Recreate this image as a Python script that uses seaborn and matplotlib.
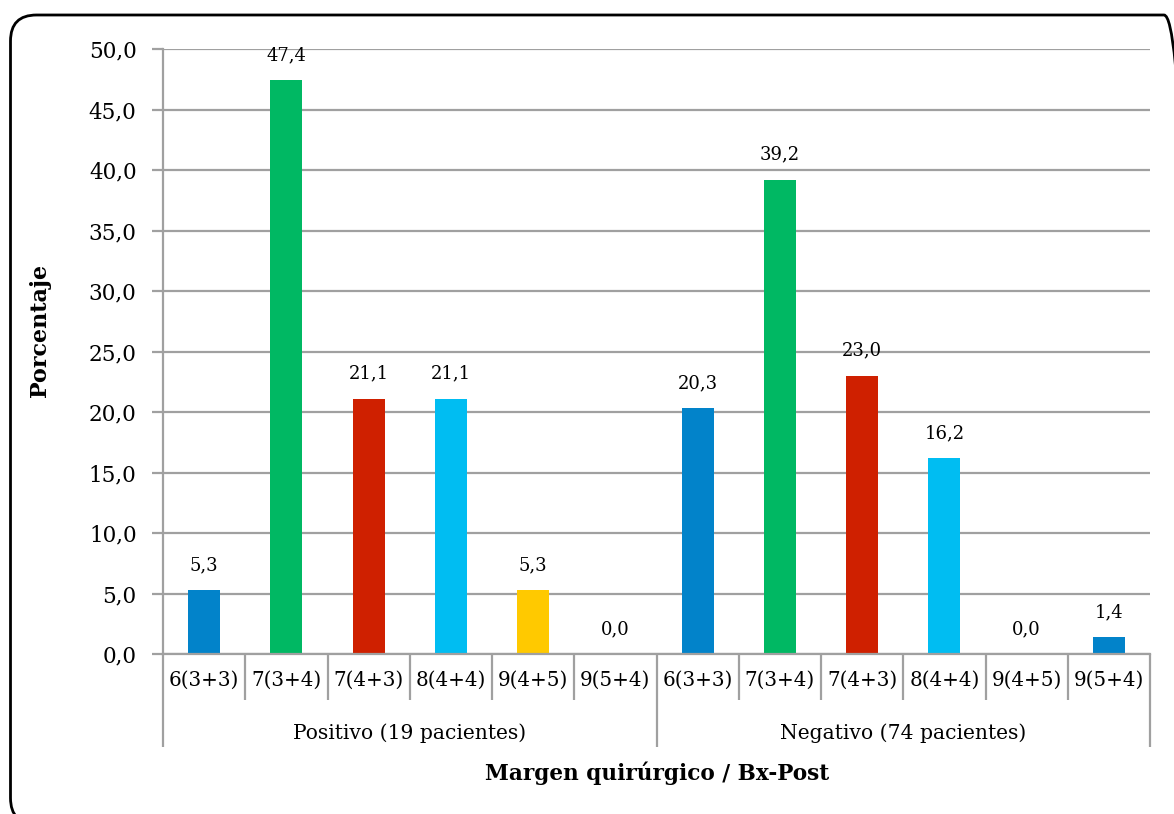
import matplotlib
matplotlib.use("Agg")
import matplotlib.pyplot as plt
from matplotlib.patches import FancyBboxPatch
import matplotlib.transforms as mtransforms
import seaborn as sns
import pandas as pd

# Gleason score categories per surgical margin group
groups = ["Positivo (19 pacientes)", "Negativo (74 pacientes)"]
gleason = ["6(3+3)", "7(3+4)", "7(4+3)", "8(4+4)", "9(4+5)", "9(5+4)"]
positivo = [5.3, 47.4, 21.1, 21.1, 5.3, 0.0]
negativo = [20.3, 39.2, 23.0, 16.2, 0.0, 1.4]
gleason_colors = ["#0283CA", "#00B863", "#CF2000", "#00BDF2", "#FFC900", "#0283CA"]

rows = []
for g, vals in zip(groups, [positivo, negativo]):
    for lab, v, c in zip(gleason, vals, gleason_colors):
        rows.append({"key": f"{g}|{lab}", "grupo": g, "gleason": lab, "pct": v, "color": c})
df = pd.DataFrame(rows)
palette = dict(zip(df["key"], df["color"]))

sns.set_theme(style="white")
plt.rcParams["font.family"] = ["DejaVu Serif"]
plt.rcParams["text.color"] = "black"
plt.rcParams["ytick.labelcolor"] = "black"

W, H = 1174, 814
fig = plt.figure(figsize=(W / 100, H / 100), dpi=100)
ax = fig.add_axes([163 / W, 1 - 654 / H, (1150 - 163) / W, (654 - 49) / H])

sns.barplot(data=df, x="key", y="pct", hue="key", palette=palette,
            order=list(df["key"]), hue_order=list(df["key"]),
            dodge=False, legend=False, width=0.39, saturation=1,
            linewidth=0, ax=ax)

grid_c = "#A0A0A0"
ax.set_ylim(0, 50)
ax.set_xlim(-0.5, len(df) - 0.5)
ax.set_yticks([i * 5 for i in range(11)])
ax.set_yticklabels([f"{i * 5:.1f}".replace(".", ",") for i in range(11)], fontsize=15.5)
ax.yaxis.grid(True, color=grid_c, linewidth=1.6)
ax.set_axisbelow(True)
for s in ["top", "right"]:
    ax.spines[s].set_visible(False)
ax.spines["left"].set_color(grid_c)
ax.spines["left"].set_linewidth(1.6)
ax.spines["bottom"].set_color(grid_c)
ax.spines["bottom"].set_linewidth(1.6)
ax.tick_params(axis="y", length=8, width=1.6, color=grid_c, pad=11, left=True)
ax.set_xticks([])
ax.set_xlabel("")
ax.set_ylabel("")

# Value labels above each bar
for i, v in enumerate(df["pct"]):
    ax.annotate(f"{v:.1f}".replace(".", ","), (i, v), xytext=(0, 18),
                textcoords="offset points", ha="center", va="center", fontsize=13)

# Two-level category axis below the plot
trans = mtransforms.blended_transform_factory(ax.transData, ax.transAxes)
ax_h = ax.get_position().height * H
tick_lo = -46 / ax_h
grp_lo = -93 / ax_h
n = len(gleason)
for b in range(len(df) + 1):
    x = b - 0.5
    lo = grp_lo if b % n == 0 else tick_lo
    ax.plot([x, x], [0, lo], transform=trans, color=grid_c, linewidth=1.6,
            clip_on=False, solid_capstyle="butt")
for i, lab in enumerate(df["gleason"]):
    ax.text(i, -26 / ax_h, lab, transform=trans, ha="center", va="center", fontsize=14.3)
for k, g in enumerate(groups):
    ax.text(k * n + (n - 1) / 2, -79 / ax_h, g, transform=trans, ha="center",
            va="center", fontsize=14.6)

fig.text(40 / W, 1 - 330 / H, "Porcentaje", rotation=90, ha="center", va="center",
         fontsize=16, fontweight="bold")
fig.text(657 / W, 1 - 773 / H, "Margen quirúrgico / Bx-Post", ha="center",
         va="center", fontsize=15.6, fontweight="bold")

# Rounded frame around the chart
fx0, fy_top, fx1, fy_bot = 10.5, 15, 1190, 824
frame = FancyBboxPatch((fx0 / W, 1 - fy_bot / H), (fx1 - fx0) / W, (fy_bot - fy_top) / H,
                       boxstyle=f"round,pad=0,rounding_size={26 / W}",
                       transform=fig.transFigure, facecolor="none",
                       edgecolor="black", linewidth=2, mutation_aspect=W / H)
fig.patches.append(frame)

fig.savefig("out.png", dpi=100)
